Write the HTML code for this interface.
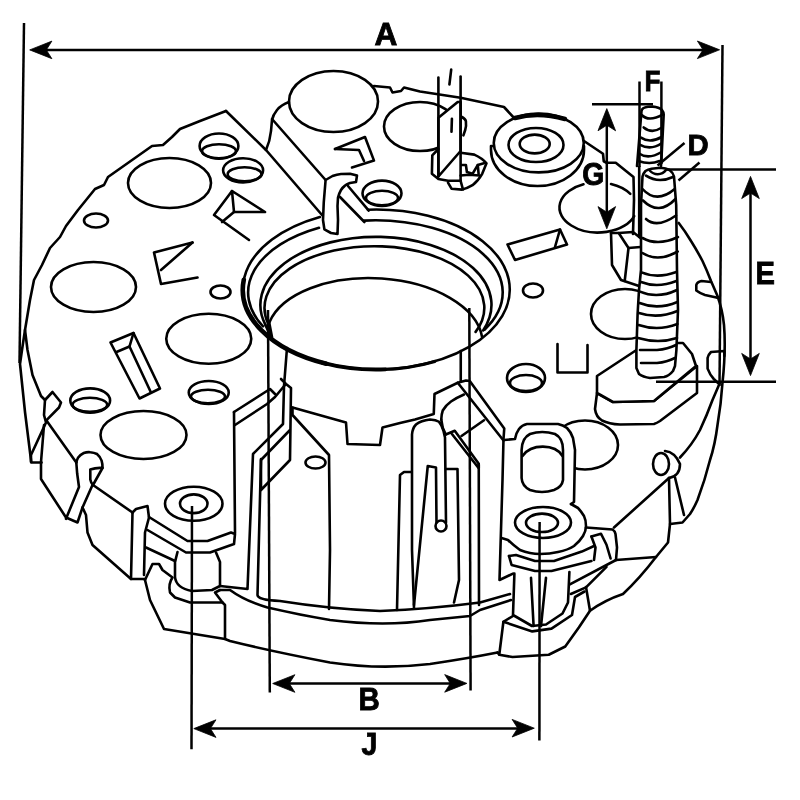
<!DOCTYPE html>
<html>
<head>
<meta charset="utf-8">
<title>Rectifier dimensions</title>
<style>
html,body{margin:0;padding:0;background:#fff;}
body{width:800px;height:800px;overflow:hidden;}
svg{display:block;}
.l{fill:none;stroke:#000;stroke-width:2.6;stroke-linejoin:round;stroke-linecap:round;}
.w{fill:#fff;stroke:#000;stroke-width:2.6;stroke-linejoin:round;stroke-linecap:round;}
.k{fill:none;stroke:#000;stroke-width:4.6;stroke-linejoin:round;stroke-linecap:round;}
.d{fill:none;stroke:#000;stroke-width:2.5;stroke-linecap:butt;}
.a{fill:#000;stroke:#000;stroke-width:0.8;stroke-linejoin:round;}
text{stroke:#000;stroke-width:0.9px;stroke-linejoin:miter;font-family:"Liberation Sans",Arial,Helvetica,sans-serif;font-weight:bold;fill:#000;}
</style>
</head>
<body>
<svg width="800" height="800" viewBox="0 0 800 800">
<defs>
<path id="ah" d="M0.4,0 L22.6,-8.8 L17,0 L22.6,8.8 Z"/>
</defs>
<rect width="800" height="800" fill="#fff"/>

<!-- ===== PLATE OUTLINE ===== -->
<g id="plate" class="l">
<path d="M226,111 L200,121 L180,129 L172,137 L163,145 L152,146 L108,177 L104,185 L95,189 L78,210 L66,226 L60,237 L50,248 L42,265 L34,280 L30,300 L25,330 L22,350 L20,364 L25,412 L31.3,462.5 L41.6,462.5"/>
<path d="M25,330 L27.5,350 L32.5,375 L41,396 L45,400 L52.5,392 L61,402.5 L59,407.5 L46.3,420.3 L76.3,462.5"/>
<path d="M45,400 L44,415 L46,422.5 L31,455 L31,462"/>
<path d="M44,425 L41,462 L41,479 L66,517.5 L77.5,522.5 L82.5,507.5 L92.5,485"/>
<path d="M76.3,462.5 Q77,459.500 78,457.800 Q80.500,454.500 83.800,453 Q87,451.800 90.300,452.200 Q94,452.500 97,454 Q100,456.500 101.600,460.600 Q102.600,464 102.500,468 Q96,467.500 90.300,469.500 L90.300,479.400 Q91,483 93,485 L132.5,512.5"/>
<path d="M76.3,462.5 L77.2,473.8 L79,487 L66,518.8"/>
<path d="M102.5,468 L93,485"/>
<path d="M82.5,507.5 L86,515 L87.5,532.5 L92.5,545 L131,579 L145,579"/>
<path d="M132.5,512.5 L136,509 L147.5,506 L149,517.5 L145,532.5 L144,575"/>
<path d="M132.5,512.5 L131,579"/>
<path d="M149,517 L187.5,541 L207.5,541 L231,532.5 L235,534 L234,544 L210,552.5 L186,552.5 L147.5,530"/>
<path d="M146,547.5 L175,561"/>
<path d="M145,580 L152.5,564 L159,564 L162.5,570 L172.5,577.5 Q168,584 170,592.5 L175,597.5 L190,602.5 L222.5,602.5 L215,592.5 L220,590"/>
<path d="M177.5,552 L175,562 L175,577 Q176,588 192,591 L212,590 L220,586 L220,562 L216,552.5"/>
<path d="M145,580 L150,600 L164,629 L225,639 L230,641 Q270,651 330,662.5 Q380,670 430,664 Q470,658 497.5,652.5"/>
<path d="M225,639 L225,605 L222.5,602.5"/>
<path d="M220,590 L230,590 Q245,601 267.5,607.5 Q300,615 330,620 Q385,627 430,620 L470,616 L480,610 L511,600"/>
<path d="M261,459 L257.5,595 Q258,600 280,601 Q330,609 380,611 Q430,609 480,602.5 L510,594"/>
</g><!--/plate-->

<!-- ===== LEFT PLATE FEATURES ===== -->
<g id="leftfeat" class="l">
<ellipse cx="169.5" cy="183" rx="41.5" ry="25"/>
<ellipse cx="93.5" cy="287" rx="42.5" ry="25"/>
<ellipse cx="143.5" cy="435" rx="43" ry="24"/>
<ellipse cx="208.75" cy="338.75" rx="42.5" ry="25"/>
<ellipse cx="96" cy="220.5" rx="12" ry="7"/>
<ellipse cx="220.5" cy="292" rx="10" ry="6.5"/>
<!-- countersunk holes -->
<ellipse cx="219" cy="146.1" rx="19.4" ry="12.6"/><ellipse cx="219" cy="151.2" rx="17" ry="7"/>
<ellipse cx="243.1" cy="170.3" rx="20" ry="12.1"/><ellipse cx="244.6" cy="174.2" rx="16.9" ry="7"/>
<ellipse cx="90.2" cy="400.6" rx="19.9" ry="12.2"/><ellipse cx="89.9" cy="404.8" rx="17.3" ry="7"/>
<ellipse cx="208.75" cy="392.5" rx="20" ry="11.5"/><ellipse cx="208" cy="396.5" rx="17" ry="6.7"/>
<!-- triangle marks -->
<path d="M192.5,242.5 L154,252.500 L161,284 L197.500,277.500"/><path d="M192.500,242.500 L161,270"/>
<path d="M232,191 L214,215 L249,240"/><path d="M232,191 L265,212 L234,212 Z"/><path d="M234,212 L222,222"/>
<!-- rect slot -->
<path d="M110.500,342.500 L133.500,333 L160,388.500 L139.500,398.500 Z"/>
<path d="M133.500,333 L129.500,346.500 L116.500,352"/><path d="M129.500,346.500 L150.500,391.500"/>
</g><!--/leftfeat-->

<!-- ===== TOP BLOCK ===== -->
<g id="topblock" class="l">
<path d="M226,111 L266,150 L322,215"/>
<path d="M289,102 Q281,105 277,110 Q273,115 272,120 L271,131 Q270,141 266,150"/>
<path d="M272,119 L325.6,180"/>
<ellipse cx="333.5" cy="101.5" rx="44.5" ry="30.5"/>
<path d="M335,149 L365,137 L374,160.600 L352,167.500"/><path d="M335,149 L359,150 L364,161"/>
<path d="M348,186 L368.750,210.600"/><path d="M340,197 L364.400,222"/>
<ellipse cx="382" cy="193.300" rx="19.500" ry="12.700"/><ellipse cx="382" cy="198" rx="16" ry="7.200"/>
</g><!--/topblock-->

<!-- ===== RING ===== -->
<g id="ring" class="l">
<path d="M367.9,209.7 A133.5,80 0 0 1 502.3,315.9 A133.5,80 0 0 1 286.7,348.8 A133.5,80 0 0 1 319.9,217.0"/>
<path class="k" d="M243.8,279.8 A133.5,80 0 0 0 326.3,363.7"/>
<path class="k" style="stroke-width:3.8" d="M322.0,362.6 A133.5,80 0 0 0 385.6,369.3"/>
<path class="k" style="stroke-width:3.1" d="M381.0,369.5 A133.5,80 0 0 0 434.8,361.4"/>
<path d="M319.0,227.8 A127.3,72.2 0 0 0 263.0,326.4"/>
<path d="M364.1,220.6 A127.3,72.2 0 0 1 483.3,254.2 A127.3,72.2 0 0 1 484.5,329.7"/>
<path d="M265.4,324.8 A115.6,68.1 0 0 1 380.9,236.9 A115.6,68.1 0 0 1 483.1,330.4"/>
<path d="M265.3,324.8 L270,335"/>
<path d="M268.2,323.7 A109.9,61.6 0 0 1 382.1,246.4 A109.9,61.6 0 0 1 475.6,331.9"/>
<path d="M268.2,323.7 L271,336"/>
<path d="M269.3,322.4 A108.2,61.6 2.5 0 1 381.9,278.5 A108.2,61.6 2.5 0 1 482.1,337.0"/>
<path d="M269.2,322.5 L272,337"/>
</g><!--/ring-->

<!-- hook -->
<g id="hook">
<path class="w" d="M325.6,180 L332.5,176 Q337,174.300 341,174 L350,173.750 L357,175.600 L356,182 L350,183 Q347,184 345,185.600 Q342.500,187.500 341,190 Q339,193.500 338,197.500 L337.500,206 L338,220 L337.500,234 L331,233 L324.400,229.400 L323,220 L323.750,202.500 Z"/>
</g><!--/hook-->


<!-- ===== RIGHT PLATE OUTLINE ===== -->
<g id="rplate" class="l">
<path d="M374,86 L390,87.5 L392.5,92.5 L401,91 L404,87.5 L420,91.5 L460.6,97.7 L490,104 L504,107 L515,119"/>
<path d="M582.5,140 L603,153.75 L603.75,161.25 L606.5,162.75 L615.75,162.75 L626,171 L633.5,177 L634,200 L633,234"/>
<path d="M639.2,165 L639.2,237"/>
<path d="M678.75,223 Q685,231 691,241 Q697,250.500 702.5,261 Q707,270.500 711,281 Q714.500,289 717.5,296 Q722.500,310 724,325 Q726,350 722.5,382.5 Q721,405 717.5,425 Q715,445 710,460 Q705,480 697.5,500 Q694,508 690,514 L682.5,522.5 L670,524"/>
<path d="M720,382.5 Q716,392 712.5,400 Q707,415 700,430 Q692,445 680,457.5"/>
<path d="M711,282 L701.5,281 Q697,282 696.3,285 L696.3,290.6 Q700,293.5 705,295 L716.4,297.6"/>
<path d="M724.3,356 L724.3,351 L711,352 Q708,355 707.6,358 L707.6,368.6 Q710,375 713.8,379 L718,383"/>
<!-- big ellipses -->
<ellipse cx="420" cy="126.5" rx="36" ry="24.5"/>
<path d="M583.5,184.3 A38.5,25 0 0 0 571.3,225.5 A38.5,25 0 0 0 634.2,216.1"/>
<path d="M611.0,184.0 A38.5,25 0 0 1 630.3,193.9"/>
<ellipse cx="625" cy="314" rx="34" ry="25"/>
<ellipse cx="585" cy="445" rx="33" ry="24.5"/>
<ellipse cx="533" cy="290.5" rx="10" ry="7"/>
<ellipse cx="526" cy="378" rx="19" ry="14"/><ellipse cx="526" cy="383" rx="16" ry="8"/>
<path d="M557.5,344 L557.5,372.5 L587.5,372.5 L587.5,345"/>
<path d="M507.5,244.5 L560,229.5 L567,244.5 L515,260 Z"/><path d="M560,229.5 L555,247"/>
</g><!--/rplate-->

<!-- ===== BUSHING ===== -->
<g id="bushing">
<path class="w" d="M491,146 L491,150 A46.5,36 0 0 0 584,150 L584,146 Z"/>
<ellipse class="w" cx="538.75" cy="143" rx="45" ry="29.4"/>
<path class="k" d="M515,118 Q538,111.5 565,119"/>
<ellipse class="l" cx="536" cy="145" rx="27.5" ry="17"/>
<ellipse class="l" cx="534.7" cy="144" rx="15" ry="9.4"/>
</g><!--/bushing-->

<!-- ===== BLADE TERMINAL ===== -->
<g id="blade">
<path class="w" d="M438.4,117.8 L457.7,102 L460.6,102 L460.6,151 L438.4,176.5 Z"/>
<path class="l" d="M438.4,77.5 L438.4,176.5"/>
<path class="l" d="M460.6,76.6 L460.6,180.8"/>
<path class="l" d="M451.2,69.6 L449.4,84.5"/>
<path class="l" d="M451.9,118.7 L451.5,131.8"/>
<path class="l" d="M438.4,149 L432.3,155.4 L431.9,173.8 L438.4,179 L448,180.8 L460.6,180.8"/>
<path class="l" d="M462,117 Q465.5,119 465.9,121.3 Q466.5,126 465.2,130 L463.4,135.3"/>
<path class="l" d="M460.6,152.8 L474.3,154.6 Q482,158 486.5,163.3 L482.2,173.8 Q478,181 472.5,185.2 Q467,188.500 462,189.6 L451.5,188.7 L448,182.6"/>
<path class="l" d="M461.5,165 L465.9,165 L466.9,172 L472.5,173.8 L477.8,165 L483.9,163.3"/>
<path class="l" d="M477.8,165 L478.6,173.8"/>
<path class="l" d="M460.6,175.5 L469,174.7 L479.5,175.5"/>
<path class="l" d="M460.6,180.8 L463,189.5"/>
</g><!--/blade-->

<!-- ===== BLOCK NEAR STUD ===== -->
<g id="gblock" class="l">
<path d="M611,233 L612,265 L621,280 L639,286"/>
<path d="M611,233 L618.7,233 L628.5,248 L624.7,281"/>
<path d="M618.7,233 L633,232 L640.5,238"/>
<path d="M628.5,248 L640.5,247"/>
</g><!--/gblock-->

<!-- ===== HEX BASE ===== -->
<g id="hex">
<path class="w" d="M597,393 L595,409 Q596,417 602,420.500 Q609,424 620,424.500 L654,424 Q657,423 660,421 L697,393 L697,366 L654,401 L613,402 Z"/>
<path class="w" d="M597,376 L638,349 L677.4,343 L683,343 L692,354 L696,366 L654,401 L613,402 L597,393 Z"/>
</g><!--/hex-->

<!-- ===== REAR STUD ===== -->
<g id="rearstud">
<path fill="#fff" stroke="none" d="M637,166 L641.5,111 Q642,107.5 648,106.800 L652.700,106.600 Q659,107 662,110 Q663.700,112 663.700,114.500 L661.600,156 L661,166 Z"/>
<path class="l" d="M637,166 L641.5,111 Q642,107.5 648,106.800 L652.700,106.600 Q659,107 662,110 Q663.700,112 663.700,114.500 L661.600,156 L661,166"/>
<g class="l">
<path d="M641.7,115.0 Q648.9,122.3 663.0,114.3"/>
<path d="M643.7,127.4 Q651.6,133.9 661.0,128.0"/>
<path d="M641.0,137.7 Q649.9,143.7 661.6,137.0"/>
<path d="M639.6,144.6 Q650.6,150.7 661.6,143.2"/>
<path d="M639.0,153.5 Q648.3,159.9 661.6,152.0"/>
<path d="M638.3,161.0 Q649.6,165.0 659.6,161.0"/>
</g>
</g><!--/rearstud-->

<!-- ===== MAIN STUD ===== -->
<g id="mainstud">
<path class="w" d="M636.4,368 L636.4,350 L637.6,314 L639,290 L641,270 L641,205 L642.5,176.5 Q643.5,173 645.5,171 Q648,169.2 651.5,168.7 L660.5,167.8 Q666,168.3 669.5,170 Q673,172.5 674,176.5 L676.2,205 L677,270 L678,310 L676.4,350 L675,366 L673,371 Q669,376 664,377 L650,378 Q643,377 639,374 Z"/>
<path class="l" d="M649.7,170.5 Q653,174.2 657.7,174.2 Q663,174 666,170"/>
<g class="l">
<path d="M646.0,175.7 Q658.5,183.7 673.0,177.0"/>
<path d="M642.5,189.0 Q656.4,204.4 674.7,189.0"/>
<path d="M643.0,200.5 Q658.8,216.2 675.5,199.0"/>
<path d="M646.0,219.0 Q657.0,228.8 676.0,215.5"/>
<path d="M642.5,238.0 Q657.8,246.5 678.0,237.0"/>
<path d="M642.5,253.0 Q657.9,262.8 677.7,251.5"/>
<path d="M641.6,272.4 Q657.0,279.0 676.4,272.0"/>
<path d="M641.0,282.0 Q657.3,288.5 676.4,281.0"/>
<path d="M640.0,291.6 Q657.5,299.2 677.0,290.0"/>
<path d="M639.6,303.0 Q657.5,310.3 677.4,302.0"/>
<path d="M639.0,313.0 Q657.8,319.2 677.4,311.0"/>
<path d="M638.6,325.0 Q658.0,331.5 677.4,324.0"/>
<path d="M638.0,338.0 Q658.5,344.0 677.0,338.0"/>
<path d="M640,350 L657,350 Q668,349 676,345"/>
<path d="M641,363 L657,363 Q667,362 675,358"/>
</g>
</g><!--/mainstud-->

<!-- ===== LUG ===== -->
<g id="lug">
<path fill="#fff" stroke="none" d="M504,440 L515,439 L519,429 L527,424 L558,424 L567,428 L573,438 L575,450 L574,502 L584,516 L586,526 L574,546 L540,554 L508,540 L501,538 Z"/>
<path class="l" d="M504,440 L515,439 Q516,433 519,429 Q522,425 527,424 L558,424 Q563,425 567,428 Q571,432 573,438 L575,450 L574,502 L571,504"/>
<path class="l" d="M521.6,450 Q522,438 530,434 Q542,430 555,434 Q563,438 563,450 L563,480 Q562,487 554,490 Q542,494 530,490 Q522,486 521.6,478 Z"/>
<path class="l" d="M522.5,456 C531,443.500 555,443.500 562.5,456"/>
</g><!--/lug-->

<!-- ===== RIGHT BOSS ===== -->
<g id="rboss">
<path class="l" d="M501.5,538 L508,540 Q513,545 520,550 Q530,554 540,554 Q550,554 558,552 Q568,550 574,546 Q580,541 583,536 Q586,531 586,526 Q586,520 584,516 Q581,511 578,508 L571,504"/>
<ellipse class="w" cx="543" cy="522.5" rx="28" ry="15.5"/>
<ellipse class="l" cx="542" cy="522.8" rx="16" ry="9.2"/>
<g class="l">
<path d="M509,556 L516,555 L535,561 L554,561 L581.8,551.6 L594,546"/>
<path d="M509,556 L511.6,565 L535,571 L551.5,571 L591.4,561"/>
<path d="M586,527.5 L612.5,529.5 Q615,531 615.5,534 L617,547.5 L616,560"/>
<path d="M591.4,536.5 L601,533.75 L606.5,544.75 L610.6,558.5"/>
<path d="M591.4,536.5 L595.5,547.5 L594,560"/>
<path d="M616,560 L569.4,584.6"/>
<path d="M606.5,566.8 L586,587.4 L570.8,594"/>
<path d="M586,587 L590,610.8"/>
<path d="M514.4,573.6 L513,615 L532,626 L546,624.5 L562.5,613.5 L568,602.5 L569.4,572"/>
<path d="M531,577.75 L533.6,626"/><path d="M546,577.75 L541,626"/>
<path d="M499.25,654.75 L503.4,621.75 L513,616"/>
<path d="M503.4,621.75 L532.25,631.4 L551.5,628.6 L572,615 L575,597 L584.5,591.5"/>
<path d="M497.5,652.5 L499.25,654.75 L512.5,657 L548.75,654.75 L565.25,646.5 L579,627.25 L590,610.75 Q605,600 623,594 Q640,578 656,557 L668,542.5 L670,524 L669,478"/>
<path d="M669,478 L614,527.5"/>
<path d="M656,557 L616,560"/>
<path d="M675,477.5 L684,515"/>
<ellipse cx="661" cy="464" rx="8" ry="11"/>
<path d="M665,451 Q675,452 680,464 Q680,476 669,478"/>
</g>
</g><!--/rboss-->

<!-- ===== CENTER BODY ===== -->
<g id="center" class="l">
<path d="M234,412 L235,533"/>
<path d="M234,412 L270,389 L275,394"/>
<path d="M235,425 L267,404 L275,397 L285,385"/>
<path d="M281,379 L286,384 L291,388 L290,460 L261,490 L261,460 L290,430"/>
<path d="M287,348 L284,386 L283,424 L253,454 L247.5,589 L220,586"/>
<path d="M292.5,407.5 L346,422.5 L347.5,444 L380,445 L382.5,427.5 L400,423 L415,419.5 L433.75,414 L434.5,394 L457.75,382.75 L466,380.5 L469.75,381 L504.25,428.5 L503.5,439 L502.5,480 L499.5,580 L513,573.6"/>
<path d="M292.5,407.5 L292.5,415 L329,455 L330,550 L329,609"/>
<path d="M457.75,382.75 L503.5,440.5"/>
<path d="M460.75,351 L460.75,381.5"/>
<path d="M441.25,419.5 Q441.5,414 442.75,410.5 Q446,405 451,401.5 Q457,397.5 464,394.5"/><path d="M441.25,419.5 L442.75,427.75 L445.75,434.5"/>
<path d="M461.5,436 L484,420.25"/>
<path d="M445.75,434.5 L454.75,430.75 L478.75,463.75 L478.75,468.25 L451.75,433.75"/>
<path d="M414,608 L412,550 L412,434.5 Q412.5,428 416,424.5 Q421,420.5 430,419.5 Q436,420 439,421.75 Q442,425 443.5,431 L445,437.5 L446,522.5"/>
<circle cx="441" cy="526" r="5.5"/>
<path d="M436.5,522.500 L436,467.5 L427.75,466 L414,605"/>
<path d="M411,472 L404,472 L400,475 L397,610"/>
<path d="M446,469 L457.500,469 L459,580 L454,602.500"/>
<path d="M478.75,465 L479,605"/>
<ellipse cx="315.500" cy="462.500" rx="10" ry="6"/>
<ellipse cx="193.75" cy="503.75" rx="28.75" ry="17"/>
<ellipse cx="193.75" cy="503.75" rx="13.75" ry="9.4"/>
</g><!--/center-->

<!-- ===== DIMENSIONS ===== -->
<g id="dims" opacity="0.999">
<path class="d" d="M40,49.900 L710,49.900"/>
<path class="d" d="M24,23 L19.500,363"/>
<path class="d" d="M722.5,45 L719.5,386"/>
<use href="#ah" class="a" transform="translate(29.3,49.900)"/>
<use href="#ah" class="a" transform="translate(720,49.800) scale(-1,1)"/>
<text transform="translate(375.55,44.25) scale(0.960,0.967)" x="-0.99" y="0.33" font-size="33">A</text>

<path class="d" d="M268,310 L269.8,692.4"/>
<path class="d" d="M469.3,308 L470.6,690.6"/>
<path class="d" d="M285,683.500 L455,683.500"/>
<use href="#ah" class="a" transform="translate(272.3,683.500)"/>
<use href="#ah" class="a" transform="translate(467.3,683.400) scale(-1,1)"/>
<text transform="translate(360.55,709.70) scale(0.894,0.962)" x="-2.31" y="0.00" font-size="33">B</text>

<path class="d" d="M192,506 L191.500,749.300"/>
<path class="d" d="M539.600,522 L539.400,740.500"/>
<path class="d" d="M205,728.400 L522,728.400"/>
<use href="#ah" class="a" transform="translate(193.4,728.600)"/>
<use href="#ah" class="a" transform="translate(534.7,728.200) scale(-1,1)"/>
<text transform="translate(362.05,755.45) scale(0.864,0.944)" x="-0.66" y="-0.33" font-size="33">J</text>
</g><!--/dims-->

<g id="dims2" opacity="0.999">
<path class="d" d="M639.5,81.5 L639.5,167"/>
<path class="d" d="M661.4,81.5 L661.4,164"/>
<text transform="translate(646.35,91.35) scale(0.794,0.918)" x="-2.31" y="0.00" font-size="33">F</text>
<path class="d" d="M592,104.300 L653,104.300"/>
<path class="d" d="M606.8,112 L606.8,225"/>
<use href="#ah" class="a" transform="translate(606.8,108.2) rotate(90)"/>
<use href="#ah" class="a" transform="translate(606.8,229.2) rotate(-90)"/>
<text transform="translate(583.30,185.45) scale(0.862,0.930)" x="-1.32" y="-0.33" font-size="33">G</text>
<path class="d" d="M684.5,143 L657.5,165.5"/>
<path class="d" d="M699.5,162.5 L678.5,180.5"/>
<text transform="translate(689.65,155.05) scale(0.889,0.887)" x="-2.31" y="0.00" font-size="33">D</text>
<path class="d" d="M666.5,169.4 L776,169.4"/>
<path class="d" d="M656,381.700 L776,381.700"/>
<path class="d" d="M750.5,180 L750.5,372"/>
<use href="#ah" class="a" transform="translate(750.5,176) rotate(90)"/>
<use href="#ah" class="a" transform="translate(750.5,376) rotate(-90)"/>
<text transform="translate(757.55,283.85) scale(0.882,0.935)" x="-2.31" y="0.00" font-size="33">E</text>
</g><!--/dims2-->
</svg>
</body>
</html>
